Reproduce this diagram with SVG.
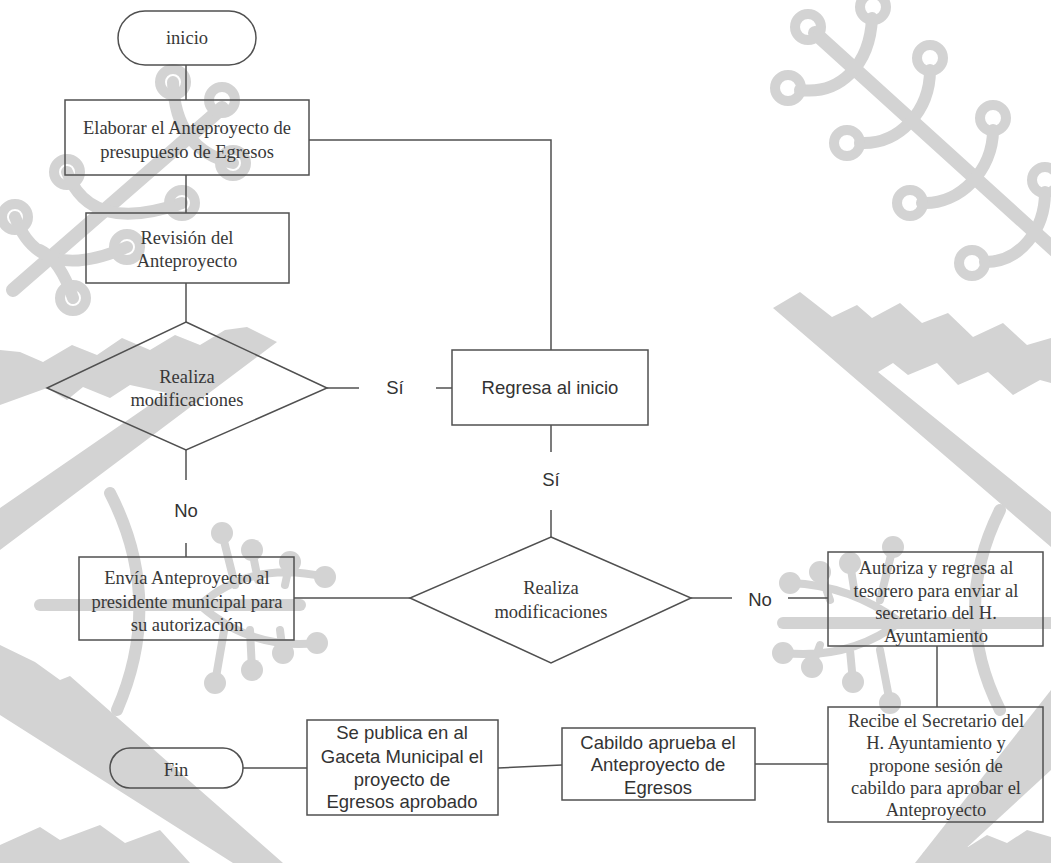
<svg xmlns="http://www.w3.org/2000/svg" width="1051" height="863" viewBox="0 0 1051 863">
  <style>
    .wm { fill: #d3d3d3; stroke: none; }
    .wml { fill: none; stroke: #d3d3d3; stroke-linecap: round; }
    .ring { fill: none; stroke: #d3d3d3; stroke-width: 10; }
    .dot { fill: #d3d3d3; }
    .shape { fill: none; stroke: #505050; stroke-width: 1.5; }
    .conn { fill: none; stroke: #505050; stroke-width: 1.5; }
    .serif { font-family: "Liberation Serif", "Times New Roman", serif; font-size: 18.5px; fill: #383838; text-anchor: middle; }
    .sans { font-family: "Liberation Sans", Arial, sans-serif; font-size: 18.5px; fill: #333; text-anchor: middle; }
  </style>
  <rect width="1051" height="863" fill="#ffffff"/>

  <!-- background emblem artwork -->
  <g id="background">
    <!-- top-right branch -->
    <line class="wml" x1="815" y1="33" x2="1060" y2="255" stroke-width="14"/>
    <path class="wml" stroke-width="12" d="M800,90 C840,95 870,65 872,18"/>
    <path class="wml" stroke-width="12" d="M860,143 C900,145 930,110 930,70"/>
    <path class="wml" stroke-width="12" d="M922,203 C960,205 993,170 993,130"/>
    <path class="wml" stroke-width="12" d="M985,262 C1020,262 1045,230 1045,192"/>
    <circle class="ring" cx="808" cy="27" r="13"/>
    <circle class="ring" cx="873" cy="7" r="13"/>
    <circle class="ring" cx="788" cy="88" r="13"/>
    <circle class="ring" cx="930" cy="58" r="13"/>
    <circle class="ring" cx="847" cy="143" r="13"/>
    <circle class="ring" cx="993" cy="118" r="13"/>
    <circle class="ring" cx="910" cy="203" r="13"/>
    <circle class="ring" cx="972" cy="263" r="13"/>
    <circle class="ring" cx="1045" cy="180" r="13"/>

    <!-- top-left branch -->
    <line class="wml" x1="222" y1="108" x2="13" y2="290" stroke-width="14"/>
    <path class="wml" stroke-width="12" d="M67,172 Q90,235 182,203"/>
    <path class="wml" stroke-width="12" d="M15,217 Q40,285 127,247"/>
    <path class="wml" stroke-width="12" d="M173,82 Q175,150 233,163"/>
    <path class="wml" stroke-width="12" d="M73,298 Q60,260 40,250"/>
    <circle class="ring" cx="173" cy="82" r="13"/>
    <circle class="ring" cx="222" cy="100" r="13"/>
    <circle class="ring" cx="67" cy="172" r="13"/>
    <circle class="ring" cx="233" cy="163" r="13"/>
    <circle class="ring" cx="15" cy="217" r="13"/>
    <circle class="ring" cx="182" cy="203" r="13"/>
    <circle class="ring" cx="127" cy="247" r="13"/>
    <circle class="ring" cx="73" cy="298" r="13"/>

    <!-- stepped bands -->
    <polygon class="wm" points="773,308 800,292 832,317 857,305 872,318 900,303 922,323 948,313 973,337 1003,323 1027,345 1051,338 1051,383 1040,380 1013,395 988,372 958,385 937,363 908,375 893,363 878,372 1051,512 1051,547"/>
    <polygon class="wm" points="0,350 20,352 43,362 72,345 97,355 122,338 150,350 175,335 200,345 225,330 247,327 277,342 0,550 0,508 167,393 130,385 110,398 83,387 67,400 47,388 0,405"/>
    <polygon class="wm" points="0,645 35,662 60,680 70,676 283,863 233,863 0,715"/>
    <polygon class="wm" points="0,845 40,827 60,840 100,825 125,843 160,830 190,863 0,863"/>
    <polygon class="wm" points="1051,690 1051,770 950,863 915,863"/>
    <polygon class="wm" points="920,863 923,853 947,840 968,847 987,835 1007,843 1027,830 1051,837 1051,863"/>

    <!-- left circuit motif -->
    <path class="wml" stroke-width="12" d="M110,493 Q165,600 117,710"/>
    <line class="wml" x1="40" y1="605" x2="300" y2="605" stroke-width="12"/>
    <path class="wml" stroke-width="8" d="M200,605 Q250,560 325,577 M200,605 Q250,650 317,643 M222,533 L235,585 M252,550 L258,580 M290,562 L285,585 M252,670 L250,630 M215,683 L225,625 M283,653 L280,630"/>
    <circle class="dot" cx="222" cy="533" r="11"/>
    <circle class="dot" cx="252" cy="550" r="11"/>
    <circle class="dot" cx="290" cy="562" r="11"/>
    <circle class="dot" cx="325" cy="577" r="11"/>
    <circle class="dot" cx="317" cy="643" r="11"/>
    <circle class="dot" cx="283" cy="653" r="11"/>
    <circle class="dot" cx="252" cy="670" r="11"/>
    <circle class="dot" cx="215" cy="683" r="11"/>

    <!-- right circuit motif -->
    <path class="wml" stroke-width="12" d="M1000,510 Q950,610 1000,710"/>
    <line class="wml" x1="783" y1="623" x2="1051" y2="623" stroke-width="12"/>
    <path class="wml" stroke-width="8" d="M900,622 Q850,585 790,583 M900,622 Q850,660 783,653 M820,572 L830,600 M850,563 L855,595 M893,547 L880,600 M812,667 L820,645 M853,682 L850,650 M890,703 L880,650"/>
    <circle class="dot" cx="790" cy="583" r="11"/>
    <circle class="dot" cx="820" cy="572" r="11"/>
    <circle class="dot" cx="850" cy="563" r="11"/>
    <circle class="dot" cx="893" cy="547" r="11"/>
    <circle class="dot" cx="783" cy="653" r="11"/>
    <circle class="dot" cx="812" cy="667" r="11"/>
    <circle class="dot" cx="853" cy="682" r="11"/>
    <circle class="dot" cx="890" cy="703" r="11"/>
  </g>

  <!-- connectors -->
  <g id="connectors">
    <line class="conn" x1="186" y1="65" x2="186" y2="100"/>
    <polyline class="conn" points="309,140 551,140 551,350"/>
    <line class="conn" x1="186" y1="175" x2="186" y2="213"/>
    <line class="conn" x1="186" y1="283" x2="186" y2="322"/>
    <line class="conn" x1="327" y1="388" x2="359" y2="388"/>
    <line class="conn" x1="436" y1="388" x2="452" y2="388"/>
    <line class="conn" x1="551" y1="425" x2="551" y2="452"/>
    <line class="conn" x1="551" y1="510" x2="551" y2="537"/>
    <line class="conn" x1="186" y1="450" x2="186" y2="480"/>
    <line class="conn" x1="186" y1="543" x2="186" y2="557"/>
    <line class="conn" x1="294" y1="598" x2="410" y2="598"/>
    <line class="conn" x1="691" y1="598" x2="732" y2="598"/>
    <line class="conn" x1="788" y1="598" x2="828" y2="598"/>
    <line class="conn" x1="937" y1="646" x2="937" y2="707"/>
    <line class="conn" x1="828" y1="764" x2="755" y2="764"/>
    <line class="conn" x1="562" y1="765" x2="498" y2="768"/>
    <line class="conn" x1="307" y1="768" x2="243" y2="768"/>
    <text class="sans" x="395" y="394">Sí</text>
    <text class="sans" x="551" y="486">Sí</text>
    <text class="sans" x="186" y="517">No</text>
    <text class="sans" x="760" y="606">No</text>
  </g>

  <g id="inicio">
    <rect class="shape" x="118" y="11" width="138" height="54" rx="27"/>
    <text class="serif" x="187" y="44">inicio</text>
  </g>

  <g id="elaborar">
    <rect class="shape" x="65" y="100" width="244" height="75"/>
    <text class="serif" x="187" y="134">Elaborar el Anteproyecto de</text>
    <text class="serif" x="187" y="158">presupuesto de Egresos</text>
  </g>

  <g id="revision">
    <rect class="shape" x="86" y="213" width="203" height="70"/>
    <text class="serif" x="187" y="244">Revisión del</text>
    <text class="serif" x="187" y="267">Anteproyecto</text>
  </g>

  <g id="decision1">
    <polygon class="shape" points="186,322 327,388 186,450 47,388"/>
    <text class="serif" x="187" y="383">Realiza</text>
    <text class="serif" x="187" y="406">modificaciones</text>
  </g>

  <g id="regresa">
    <rect class="shape" x="452" y="350" width="196" height="75"/>
    <text class="sans" x="550" y="394">Regresa al inicio</text>
  </g>

  <g id="envia">
    <rect class="shape" x="79" y="557" width="215" height="83"/>
    <text class="serif" x="187" y="584">Envía Anteproyecto al</text>
    <text class="serif" x="187" y="608">presidente municipal para</text>
    <text class="serif" x="187" y="631">su autorización</text>
  </g>

  <g id="decision2">
    <polygon class="shape" points="551,537 691,598 551,663 410,598"/>
    <text class="serif" x="551" y="594">Realiza</text>
    <text class="serif" x="551" y="618">modificaciones</text>
  </g>

  <g id="autoriza">
    <rect class="shape" x="828" y="552" width="215" height="94"/>
    <text class="serif" x="936" y="574">Autoriza y regresa al</text>
    <text class="serif" x="936" y="597">tesorero para enviar al</text>
    <text class="serif" x="936" y="619">secretario del H.</text>
    <text class="serif" x="936" y="642">Ayuntamiento</text>
  </g>

  <g id="recibe">
    <rect class="shape" x="828" y="707" width="215" height="115"/>
    <text class="serif" x="936" y="727">Recibe el Secretario del</text>
    <text class="serif" x="936" y="749">H. Ayuntamiento y</text>
    <text class="serif" x="936" y="772">propone sesión de</text>
    <text class="serif" x="936" y="794">cabildo para aprobar el</text>
    <text class="serif" x="936" y="816">Anteproyecto</text>
  </g>

  <g id="cabildo">
    <rect class="shape" x="562" y="728" width="193" height="72"/>
    <text class="sans" x="658" y="749">Cabildo aprueba el</text>
    <text class="sans" x="658" y="771">Anteproyecto de</text>
    <text class="sans" x="658" y="794">Egresos</text>
  </g>

  <g id="publica">
    <rect class="shape" x="307" y="720" width="191" height="95"/>
    <text class="sans" x="402" y="739">Se publica en al</text>
    <text class="sans" x="402" y="763">Gaceta Municipal el</text>
    <text class="sans" x="402" y="786">proyecto de</text>
    <text class="sans" x="402" y="808">Egresos aprobado</text>
  </g>

  <g id="fin">
    <rect class="shape" x="110" y="748" width="133" height="40" rx="20"/>
    <text class="serif" x="176" y="776">Fin</text>
  </g>
</svg>
